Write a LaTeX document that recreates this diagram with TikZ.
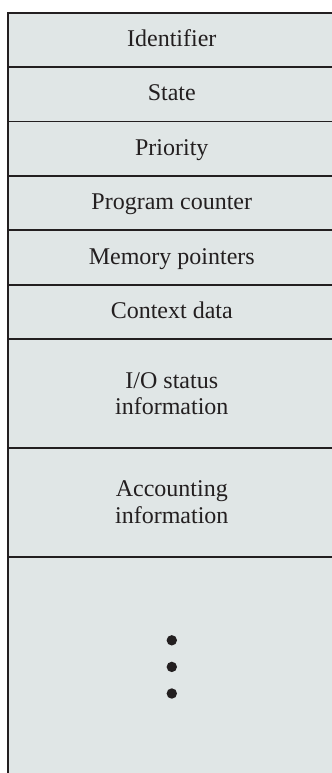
\documentclass[tikz,border=0pt]{standalone}
\usepackage{fontspec}
\setmainfont{Liberation Serif}
\usepackage{xcolor}
\definecolor{cFill}{HTML}{E0E6E6}
\definecolor{cLine}{HTML}{231F20}
\usepackage{tikz}
\usetikzlibrary{positioning}
\tikzset{
  node-row/.style={draw=cLine,line width=0.9pt,fill=cFill,outer sep=0pt,
    minimum width=163.5pt,minimum height=27.2pt,inner sep=0pt,
    align=center,text=cLine,font=\fontsize{12}{13.2}\selectfont},
  node-single/.style={text height=0.66em,text depth=0pt},
  node-double/.style={minimum height=54.4pt},
  node-dot/.style={circle,fill=cLine,inner sep=0pt,minimum size=5.2pt},
}

\begin{document}
\begin{tikzpicture}
  \useasboundingbox (0,0) rectangle (166pt,-386.5pt);
  \clip (0,0) rectangle (166pt,-386.5pt);
  \node[node-row,node-single,anchor=north west] (ident) at (4.15pt,-6.35pt) {Identifier};
  \node[node-row,node-single,below=0pt of ident] (state) {State};
  \node[node-row,node-single,below=0pt of state] (prio) {Priority};
  \node[node-row,node-single,below=0pt of prio] (pc) {Program counter};
  \node[node-row,node-single,below=0pt of pc] (memptr) {Memory pointers};
  \node[node-row,node-single,below=0pt of memptr] (ctx) {Context data};
  \node[node-row,node-double,below=0pt of ctx] (iostat) {I/O status\\information};
  \node[node-row,node-double,below=0pt of iostat] (acct) {Accounting\\information};
  \node[node-row,minimum height=130pt,below=0pt of acct] (rest) {};
  % vertical ellipsis
  \foreach \i in {0,1,2}
    \node[node-dot] (dot\i) at ([yshift=-41.8pt-\i*13.3pt]rest.north) {};
\end{tikzpicture}
\end{document}
